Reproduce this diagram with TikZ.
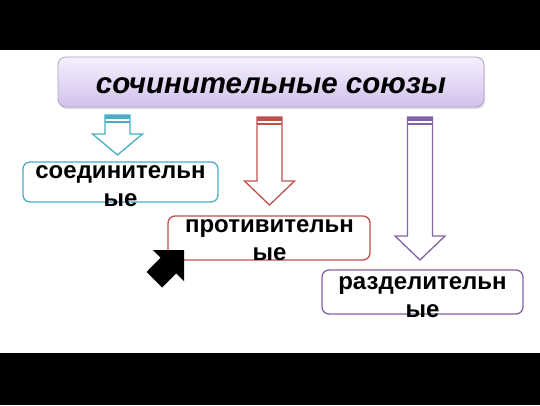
\documentclass[tikz,border=0pt]{standalone}
\usepackage{fontspec}
\setmainfont{Liberation Sans}
\usepackage{tikz}
\usetikzlibrary{arrows,shapes,positioning,shadows}

\definecolor{soedcol}{HTML}{4BACC6}
\definecolor{protcol}{HTML}{C0504D}
\definecolor{razdcol}{HTML}{8064A2}
\definecolor{titletop}{HTML}{F5F1FB}
\definecolor{titlebot}{HTML}{D2C0EC}
\definecolor{titleline}{HTML}{ADA2C2}

% hollow striped down arrow: colour, x of axis, top, start of head, tip
\newcommand{\downblock}[5]{%
  \draw [#1, line width=1.3pt] (#2-12.5,#3) -- (#2+12.5,#3) -- (#2+12.5,#4) -- (#2+25,#4)
        -- (#2,#5) -- (#2-25,#4) -- (#2-12.5,#4) -- cycle;
  \fill [#1] (#2-12.5,#3) rectangle (#2+12.5,#3+4);
  \fill [#1] (#2-12.5,#3+5.5) rectangle (#2+12.5,#3+7.5);
}

\begin{document}
\begin{tikzpicture}[x=1pt,y=-1pt]
                    \tikzstyle{every node}+=[inner sep=0pt]
                    \tikzset{kind/.style={draw=#1, rounded corners=7pt, line width=1.3pt, fill=white},
                             kindtext/.style={font=\fontsize{24}{28}\selectfont\bfseries, align=center, anchor=north}}
                    \useasboundingbox (0,0) rectangle (540,405);
                    \fill [black] (0,0) rectangle (540,50);
                    \fill [black] (0,353) rectangle (540,405);
                    % title
                    \node (title) [draw=titleline, line width=0.8pt, rounded corners=8pt,
                          top color=titletop, bottom color=titlebot,
                          drop shadow={shadow xshift=1pt, shadow yshift=-2pt, opacity=0.25},
                          minimum width=426pt, minimum height=50pt] at (271,82) {};
                    \node (titletext) [anchor=base, font=\fontsize{29.5}{34}\selectfont\bfseries\itshape]
                          at (271,93) {сочинительные союзы};
                    % arrows
                    \downblock{soedcol}{117.5}{115}{134}{155}
                    \downblock{protcol}{269.5}{117}{181}{205}
                    \downblock{razdcol}{420}{117}{236}{260}
                    % boxes
                    \node (soed) [kind=soedcol, minimum width=195pt, minimum height=40pt] at (120.5,182) {};
                    \node (soedtext) [kindtext] at (120.5,165) {соединительн\\ые};
                    \node (prot) [kind=protcol, minimum width=202pt, minimum height=44pt] at (269,238) {};
                    \node (prottext) [kindtext] at (269.5,219) {противительн\\ые};
                    \node (razd) [kind=razdcol, minimum width=201pt, minimum height=44pt] at (422.5,292) {};
                    \node (razdtext) [kindtext] at (422.5,276) {разделительн\\ые};
                    % pointer
                    \fill [black] (184,250) -- (184,281) -- (176.2,273.4) -- (162.1,287.5)
                          -- (146.6,271.9) -- (160.6,257.8) -- (153,250) -- cycle;
\end{tikzpicture}
\end{document}
